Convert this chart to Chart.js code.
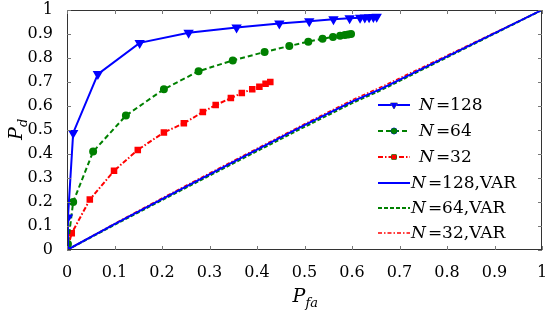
<!DOCTYPE html>
<html>
<head>
<meta charset="utf-8">
<script src="https://cdn.jsdelivr.net/npm/chart.js@4.4.0/dist/chart.umd.min.js"></script>
<style>
  html, body { margin: 0; padding: 0; background: #fff; }
  #wrap { width: 548px; height: 312px; }
</style>
</head>
<body>
<div id="wrap"><canvas id="roc"></canvas></div>
<script>
// tick positions on both axes
const xTicks = [0, 0.1, 0.2, 0.3, 0.4, 0.5, 0.6, 0.7, 0.8, 0.9, 1];
const yTicks = [0, 0.1, 0.2, 0.3, 0.4, 0.5, 0.6, 0.7, 0.8, 0.9, 1];

// N = 128
const pfa128 = [0, 0.002, 0.013, 0.065, 0.153, 0.256, 0.357, 0.447, 0.51, 0.561, 0.595, 0.617, 0.627, 0.636, 0.645, 0.652];
const pd128  = [0, 0.135, 0.488, 0.733, 0.863, 0.905, 0.927, 0.944, 0.953, 0.961, 0.966, 0.968, 0.969, 0.970, 0.971, 0.972];
// N = 64
const pfa64 = [0, 0.002, 0.013, 0.055, 0.124, 0.204, 0.277, 0.349, 0.416, 0.468, 0.508, 0.538, 0.56, 0.575, 0.585, 0.592, 0.598];
const pd64  = [0, 0.025, 0.2, 0.41, 0.56, 0.67, 0.745, 0.79, 0.825, 0.85, 0.868, 0.88, 0.888, 0.893, 0.896, 0.898, 0.9];
// N = 32
const pfa32 = [0, 0.01, 0.048, 0.099, 0.149, 0.204, 0.246, 0.286, 0.313, 0.345, 0.368, 0.39, 0.405, 0.418, 0.428];
const pd32  = [0, 0.07, 0.21, 0.33, 0.417, 0.49, 0.528, 0.575, 0.604, 0.633, 0.654, 0.67, 0.68, 0.693, 0.70];
// VAR detectors (almost on the diagonal)
const pfaVar    = [0, 0.1, 0.2, 0.3, 0.4, 0.5, 0.6, 0.66, 1];
const pd128Var  = [0, 0.108, 0.212, 0.315, 0.418, 0.52, 0.618, 0.67, 1];
const pd64Var   = [0, 0.105, 0.208, 0.31, 0.412, 0.513, 0.612, 0.665, 1];
const pd32Var   = [0, 0.11, 0.216, 0.32, 0.423, 0.525, 0.625, 0.678, 1];

const legendNums = ["128", "64", "32", "128,VAR", "64,VAR", "32,VAR"];

const BLUE = "#0000ff", GREEN = "#008000", RED = "#ff0000";
const SERIF = "'DejaVu Serif', 'Liberation Serif', serif";

function pts(xs, ys) {
  return xs.map((x, i) => ({ x: x, y: ys[i] }));
}

const datasets = [
  { data: pts(pfa128, pd128), borderColor: BLUE, backgroundColor: BLUE, borderWidth: 2,
    pointStyle: "triangle", rotation: 180, pointRadius: 4 },
  { data: pts(pfa64, pd64), borderColor: GREEN, backgroundColor: GREEN, borderWidth: 2,
    borderDash: [5, 3], pointStyle: "circle", pointRadius: 3 },
  { data: pts(pfa32, pd32), borderColor: RED, backgroundColor: RED, borderWidth: 2,
    borderDash: [5, 2, 1.5, 2], pointStyle: "rect", pointRadius: 3.2 },
  { data: pts(pfaVar, pd128Var), borderColor: BLUE, borderWidth: 2, pointRadius: 0 },
  { data: pts(pfaVar, pd64Var), borderColor: GREEN, borderWidth: 2, borderDash: [4, 2], pointRadius: 0 },
  { data: pts(pfaVar, pd32Var), borderColor: RED, borderWidth: 1.5, borderDash: [4, 2, 1.5, 2], pointRadius: 0 }
];

// frame, inward ticks, axis titles and legend
const decor = {
  id: "decor",
  afterDraw(chart) {
    const ctx = chart.ctx;
    const a = chart.chartArea;
    const sx = chart.scales.x, sy = chart.scales.y;
    ctx.save();
    ctx.strokeStyle = "#333";
    ctx.lineWidth = 1;
    ctx.strokeRect(a.left + 0.5, a.top + 0.5, a.right - a.left - 1, a.bottom - a.top - 1);
    ctx.strokeStyle = "#777";
    ctx.beginPath();
    xTicks.forEach((t) => {
      const px = Math.round(sx.getPixelForValue(t)) + 0.5;
      ctx.moveTo(px, a.bottom); ctx.lineTo(px, a.bottom - 4);
      ctx.moveTo(px, a.top); ctx.lineTo(px, a.top + 4);
    });
    yTicks.forEach((t) => {
      const py = Math.round(sy.getPixelForValue(t)) + 0.5;
      ctx.moveTo(a.left, py); ctx.lineTo(a.left + 4, py);
      ctx.moveTo(a.right, py); ctx.lineTo(a.right - 4, py);
    });
    ctx.stroke();

    // axis titles
    ctx.fillStyle = "#000";
    ctx.textBaseline = "alphabetic";
    ctx.font = "italic 19px " + SERIF;
    const cx = (a.left + a.right) / 2;
    ctx.fillText("P", cx - 12, 302);
    ctx.font = "italic 13px " + SERIF;
    ctx.fillText("fa", cx + 1, 307);

    ctx.save();
    ctx.translate(22, (a.top + a.bottom) / 2);
    ctx.rotate(-Math.PI / 2);
    ctx.font = "italic 19px " + SERIF;
    ctx.fillText("P", -10, 0);
    ctx.font = "italic 13px " + SERIF;
    ctx.fillText("d", 3, 5);
    ctx.restore();

    // legend
    const rowY = [105, 131, 157, 183, 208, 233];
    chart.data.datasets.forEach((ds, i) => {
      const y = rowY[i];
      ctx.save();
      ctx.strokeStyle = ds.borderColor;
      ctx.lineWidth = ds.borderWidth;
      ctx.setLineDash(ds.borderDash || []);
      ctx.beginPath();
      ctx.moveTo(378, y); ctx.lineTo(410, y);
      ctx.stroke();
      ctx.restore();
      if (ds.pointRadius > 0) {
        Chart.helpers.drawPoint(ctx, {
          pointStyle: ds.pointStyle, rotation: ds.rotation || 0, radius: ds.pointRadius,
          borderWidth: 1
        }, 394, y);
        ctx.fillStyle = ds.backgroundColor;
        ctx.strokeStyle = ds.borderColor;
        ctx.fill();
      }
      const tx = i < 3 ? 419 : 411;
      ctx.fillStyle = "#000";
      ctx.textBaseline = "middle";
      ctx.font = "italic 17px " + SERIF;
      ctx.fillText("N", tx, y + 1);
      const w = ctx.measureText("N").width;
      ctx.font = "17px " + SERIF;
      ctx.fillText("=" + legendNums[i], tx + w + 2, y + 1);
    });
    ctx.restore();
  }
};

const tickFont = { family: SERIF, size: 16 };
const fmt = (v) => String(Math.round(v * 10) / 10);

new Chart(document.getElementById("roc"), {
  type: "scatter",
  data: { datasets: datasets },
  options: {
    responsive: true,
    maintainAspectRatio: false,
    animation: false,
    showLine: true,
    layout: { padding: { top: 10, right: 5, left: 0, bottom: 0 } },
    elements: { line: { tension: 0 }, point: { borderWidth: 1 } },
    plugins: { legend: { display: false }, tooltip: { enabled: false } },
    scales: {
      x: {
        type: "linear", min: 0, max: 1,
        afterBuildTicks: (s) => { s.ticks = xTicks.map((v) => ({ value: v })); },
        afterFit: (s) => { s.height = 62; s.paddingLeft = 0; s.paddingRight = 0; },
        grid: { display: false },
        border: { display: false },
        ticks: { color: "#000", padding: 5, font: tickFont, callback: fmt, autoSkip: false, maxRotation: 0 }
      },
      y: {
        type: "linear", min: 0, max: 1,
        afterBuildTicks: (s) => { s.ticks = yTicks.map((v) => ({ value: v })); },
        afterFit: (s) => { s.width = 67; s.paddingTop = 0; s.paddingBottom = 0; },
        grid: { display: false },
        border: { display: false },
        ticks: { color: "#000", padding: 6, font: tickFont, callback: fmt, autoSkip: false }
      }
    }
  },
  plugins: [decor]
});
</script>
</body>
</html>
